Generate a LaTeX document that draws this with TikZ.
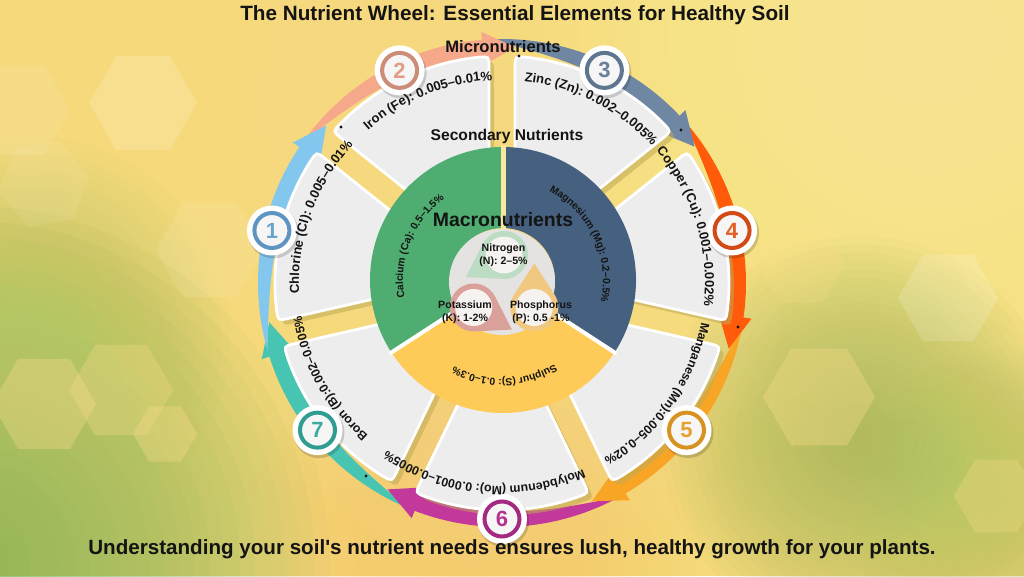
\documentclass[tikz,border=0pt]{standalone}
\usepackage{fontspec}
\setmainfont{Liberation Sans}

\definecolor{bgbase}{HTML}{F6D97A}
\definecolor{bgpale}{HTML}{FFF6A4}
\definecolor{bgpale2}{HTML}{FBE995}
\definecolor{bggreen}{HTML}{7FB254}
\definecolor{bggreen2}{HTML}{B3C663}
\definecolor{bggreen3}{HTML}{A3B85B}
\definecolor{bgorange}{HTML}{F4CC70}
\definecolor{hexpeach}{HTML}{FCDC8A}
\definecolor{ringG}{HTML}{4FAD72}
\definecolor{ringB}{HTML}{45617F}
\definecolor{ringY}{HTML}{FFCB58}
\definecolor{gapY}{HTML}{F7E89E}
\definecolor{greyd}{HTML}{E5E3E2}
\definecolor{tN}{HTML}{BCDCC4}
\definecolor{tK}{HTML}{D9A19A}
\definecolor{tP}{HTML}{F0C880}
\definecolor{tin}{HTML}{F5F2EF}
\definecolor{tilegray}{HTML}{EDEDED}
\definecolor{tshadow}{HTML}{BFAA55}
\definecolor{arA}{HTML}{84C7EE}
\definecolor{arB}{HTML}{F6A98A}
\definecolor{arC}{HTML}{6F87A2}
\definecolor{arD}{HTML}{FF5B0A}
\definecolor{arE}{HTML}{F8A526}
\definecolor{arF}{HTML}{C3389B}
\definecolor{arG}{HTML}{47C4B2}
\definecolor{bdA}{HTML}{5D94C2}
\definecolor{bdB}{HTML}{CC8C78}
\definecolor{bdC}{HTML}{5F7690}
\definecolor{bdD}{HTML}{D24A16}
\definecolor{bdE}{HTML}{D79222}
\definecolor{bdF}{HTML}{A42A81}
\definecolor{bdG}{HTML}{2F9D91}
\definecolor{nA}{HTML}{6AA3CF}
\definecolor{nB}{HTML}{E39C84}
\definecolor{nC}{HTML}{6A8098}
\definecolor{nD}{HTML}{E35F22}
\definecolor{nE}{HTML}{E8A02C}
\definecolor{nF}{HTML}{B5338F}
\definecolor{nG}{HTML}{3AAD9E}
\definecolor{badgein}{HTML}{F6F6F6}
\definecolor{ink}{HTML}{141414}

\newcommand\mytitlef{\fontsize{20.7}{24}\selectfont\bfseries}
\newcommand\myfootf{\fontsize{20.6}{24}\selectfont\bfseries}
\newcommand\myheadf{\fontsize{15.6}{18}\selectfont\bfseries}
\newcommand\mymicrof{\fontsize{16.6}{18}\selectfont\bfseries}
\newcommand\mymacrof{\fontsize{19.4}{22}\selectfont\bfseries}
\newcommand\mysmallf{\fontsize{10.6}{13}\selectfont\bfseries}
\newcommand\mynumf{\fontsize{22}{24}\selectfont\bfseries}
% primitive fonts for the curved labels
\font\mytilefnt="Liberation Sans/B" at 13pt
\font\mybottomfnt="Liberation Sans/B" at 12.3pt
\font\myringfnt="Liberation Sans/B" at 10.3pt

% soft blob: stacked translucent discs
\newcommand\softblob[5]{%
  \foreach \ii in {1,...,24}{\fill[#4, opacity=#5] (#1,#2) circle ({#3*\ii/24});}}

\newcommand\hexbok[5]{%
  \begin{scope}[shift={(#1,#2)}, rotate=#4]
    \fill[#5] (0:#3) -- (60:#3) -- (120:#3) -- (180:#3) -- (240:#3) -- (300:#3) -- cycle;
  \end{scope}}

% geometry of tile number \k
\newcommand\tilecalc{%
  \pgfmathsetmacro\bang{218.5714-51.4286*\k}%
  \pgfmathsetmacro\gA{\bang-25.714}%
  \pgfmathsetmacro\gB{\bang+25.714}%
  \pgfmathsetmacro\sA{\gA+3.3}%
  \pgfmathsetmacro\sAA{\gA+5.9}%
  \pgfmathsetmacro\sB{\gB-3.3}%
  \pgfmathsetmacro\sBB{\gB-5.9}%
  \pgfmathsetmacro\iAx{95*cos(\gA)-13*sin(\gA)}%
  \pgfmathsetmacro\iAy{95*sin(\gA)+13*cos(\gA)}%
  \pgfmathsetmacro\pAx{216*cos(\gA)-13*sin(\gA)}%
  \pgfmathsetmacro\pAy{216*sin(\gA)+13*cos(\gA)}%
  \pgfmathsetmacro\iBx{95*cos(\gB)+13*sin(\gB)}%
  \pgfmathsetmacro\iBy{95*sin(\gB)-13*cos(\gB)}%
  \pgfmathsetmacro\pBx{216*cos(\gB)+13*sin(\gB)}%
  \pgfmathsetmacro\pBy{216*sin(\gB)-13*cos(\gB)}%
}

% text set clockwise along a circle, tops outward, centred on an angle
\makeatletter
\newlength\myarcw
\newcommand\curvetext[5]{%
  \setbox0\hbox{#4#5}\myarcw=\wd0
  \pgfmathsetmacro\myang{#3+28.64789*\the\myarcw/#2}%
  \@tfor\myarcch:=#5\do{%
    \setbox0\hbox{#4\myarcch}\myarcw=\wd0
    \pgfmathsetmacro\mymid{\myang-28.64789*\the\myarcw/#2}%
    \pgfmathsetmacro\myrot{\mymid-90}%
    \node[inner sep=0pt, outer sep=0pt, anchor=base, rotate=\myrot, font=#4, text=ink] at ([shift={(#1)}]\mymid:#2) {\myarcch};
    \pgfmathsetmacro\myang{\myang-57.29578*\the\myarcw/#2}%
  }}
\makeatother

\tikzset{
  tileshape/.style={fill=tilegray, draw=white, line width=2.8pt},
  tileshadow/.style={fill=tshadow, fill opacity=.55},
  lbl/.style={text=ink, inner sep=0pt}
}

\begin{document}
\begin{tikzpicture}[x=1pt,y=1pt]
\useasboundingbox (0,0) rectangle (1024,576);
% ---------- background ----------
\fill[bgbase] (0,0) rectangle (1024,576);
\begin{scope}
\clip (0,0) rectangle (1024,576);
\softblob{930}{540}{420}{bgpale}{.05}
\softblob{520}{470}{300}{bgpale2}{.045}
\softblob{-30}{10}{360}{bggreen}{.06}
\softblob{30}{240}{200}{bggreen2}{.045}
\softblob{860}{140}{200}{bggreen3}{.055}
\softblob{1010}{70}{160}{bggreen2}{.035}
\softblob{470}{30}{230}{bgorange}{.035}
\softblob{502}{293}{280}{bgpale2}{.035}
\hexbok{143}{473}{54}{0}{white,opacity=.16}
\hexbok{18}{466}{52}{0}{white,opacity=.10}
\hexbok{44}{392}{46}{10}{white,opacity=.08}
\hexbok{210}{326}{54}{0}{white,opacity=.10}
\hexbok{44}{172}{52}{0}{hexpeach,opacity=.35}
\hexbok{121}{186}{52}{0}{hexpeach,opacity=.3}
\hexbok{165}{142}{32}{0}{hexpeach,opacity=.35}
\hexbok{948}{278}{50}{0}{white,opacity=.16}
\hexbok{819}{179}{56}{0}{hexpeach,opacity=.35}
\hexbok{996}{80}{42}{0}{hexpeach,opacity=.3}
\hexbok{801}{311}{44}{0}{hexpeach,opacity=.2}
\end{scope}

\coordinate (W) at (502,293);
\coordinate (R) at (503,296);
\coordinate (G) at (502,294);
\coordinate (T) at (504,286);

% ---------- arrows ----------
\begin{scope}[shift={(W)}]
\foreach \k/\ac in {7/arG,6/arF,5/arE,4/arD,3/arC,2/arB,1/arA}{
  \pgfmathsetmacro\bang{218.5714-51.4286*\k}
  \pgfmathsetmacro\tA{\bang+29}
  \pgfmathsetmacro\hB{\bang-21}
  \pgfmathsetmacro\tP{\bang-29}
  \fill[\ac] plot[domain=0:1, samples=40, variable=\vv] ({\tA-50*\vv}:244)
     -- (\hB:252) -- (\tP:236) -- (\hB:219)
     -- plot[domain=0:1, samples=40, variable=\vv] ({\hB+50*\vv}:{228+16*\vv*\vv*\vv*\vv})
     -- cycle;
}
% ---------- tiles ----------
\foreach \k in {1,...,7}{
  \tilecalc
  \fill[tileshadow, xshift=5pt, yshift=-5pt] (\iAx,\iAy) -- (\pAx,\pAy) .. controls (\sA:227) .. (\sAA:227) arc[start angle=\sAA, end angle=\sBB, radius=227] .. controls (\sB:227) .. (\pBx,\pBy) -- (\iBx,\iBy) -- cycle;
}
\foreach \k in {1,...,7}{
  \tilecalc
  \path[tileshape] (\iAx,\iAy) -- (\pAx,\pAy) .. controls (\sA:227) .. (\sAA:227) arc[start angle=\sAA, end angle=\sBB, radius=227] .. controls (\sB:227) .. (\pBx,\pBy) -- (\iBx,\iBy) -- cycle;
}
\end{scope}

% ---------- inner ring ----------
\begin{scope}[shift={(R)}]
\fill[ringG] (90:52) -- (90:133) arc[start angle=90, end angle=213, radius=133] -- (213:52) arc[start angle=213, end angle=90, radius=52] -- cycle;
\fill[ringB] (-33:52) -- (-33:133) arc[start angle=-33, end angle=90, radius=133] -- (90:52) arc[start angle=90, end angle=-33, radius=52] -- cycle;
\fill[ringY] (213:52) -- (213:133) arc[start angle=213, end angle=327, radius=133] -- (327:52) arc[start angle=327, end angle=213, radius=52] -- cycle;
\draw[gapY, line width=5pt] (90:50) -- (90:135);
\draw[white, line width=4pt] (213:50) -- (213:135);
\draw[white, line width=4pt] (327:50) -- (327:135);
\end{scope}
\fill[greyd] (G) circle (53);

% ---------- trefoil ----------
\foreach \pa/\tc in {90/tN,210/tK,330/tP}{
  \begin{scope}[shift={(T)}, shift={(\pa:35)}]
    \pgfmathsetmacro\dr{\pa+120}
    \pgfmathsetmacro\dra{\dr+56.9}
    \pgfmathsetmacro\drb{\dr+303.1}
    \fill[\tc] (\dr:44) -- (\dra:24) arc[start angle=\dra, end angle=\drb, radius=24] -- cycle;
    \fill[tin] (0,0) circle (18.5);
  \end{scope}
}

% ---------- badges ----------
\begin{scope}[shift={(W)}]
\foreach \k/\bc/\nc in {1/bdA/nA,2/bdB/nB,3/bdC/nC,4/bdD/nD,5/bdE/nE,6/bdF/nF,7/bdG/nG}{
  \pgfmathsetmacro\bang{218.5714-51.4286*\k}
  \fill[black, opacity=.16] ([shift={(1.5,-2.5)}]\bang:236) circle (25.5);
  \node[circle, fill=white, minimum size=50pt, inner sep=0pt] (bw\k) at (\bang:236) {};
  \node[circle, draw=\bc, line width=4pt, fill=badgein, minimum size=35pt, inner sep=0pt, text=\nc, font=\mynumf] (b\k) at (\bang:236) {\k};
}
\end{scope}

% ---------- small dots ----------
\fill[ink] (341,449) circle (1.7);
\fill[ink] (519,520) circle (1.7);
\fill[ink] (681,446) circle (1.7);
\fill[ink] (738,249) circle (1.7);
\fill[ink] (366,100) circle (1.7);

% ---------- curved labels ----------
\curvetext{W}{203}{160}{\mytilefnt}{Chlorine~(Cl):~0.005–0.01\%}
\curvetext{W}{203}{112}{\mytilefnt}{Iron~(Fe):~0.005–0.01\%}
\curvetext{W}{203}{63}{\mytilefnt}{Zinc~(Zn):~0.002–0.005\%}
\curvetext{W}{203}{17}{\mytilefnt}{Copper~(Cu):~0.001–0.002\%}
\curvetext{W}{203}{-35.5}{\mybottomfnt}{Manganese~(Mn):0.005–0.02\%}
\curvetext{W}{203}{-95.5}{\mybottomfnt}{Molybdenum~(Mo):~0.0001–0.0005\%}
\curvetext{W}{203}{-151}{\mybottomfnt}{Boron~(B):0.002–0.005\%}
\curvetext{R}{100}{158}{\myringfnt}{Calcium~(Ca):~0.5–1.5\%}
\curvetext{R}{100}{25}{\myringfnt}{Magnesium~(Mg):~0.2–0.5\%}
\curvetext{R}{99}{-89}{\myringfnt}{Sulphur~(S):~0.1–0.3\%}

% ---------- headings ----------
\node[lbl, font=\mytitlef] (title) at (515,561) {The Nutrient Wheel: Essential Elements for Healthy Soil};
\node[lbl, font=\myfootf] (foot) at (512,27) {Understanding your soil\textquotesingle s nutrient needs ensures lush, healthy growth for your plants.};
\node[lbl, font=\mymicrof] (micro) at (503,529) {Micronutrients};
\node[lbl, font=\myheadf] (second) at (507,440) {Secondary Nutrients};
\node[lbl, font=\mymacrof] (macro) at (503,356) {Macronutrients};
\node[lbl, font=\mysmallf, align=center] (nit) at (503.5,320.5) {Nitrogen\\(N): 2–5\%};
\node[lbl, font=\mysmallf, align=center] (pot) at (465,264) {Potassium\\(K): 1-2\%};
\node[lbl, font=\mysmallf, align=center] (pho) at (541,264) {Phosphorus\\(P): 0.5 -1\%};
\end{tikzpicture}
\end{document}
